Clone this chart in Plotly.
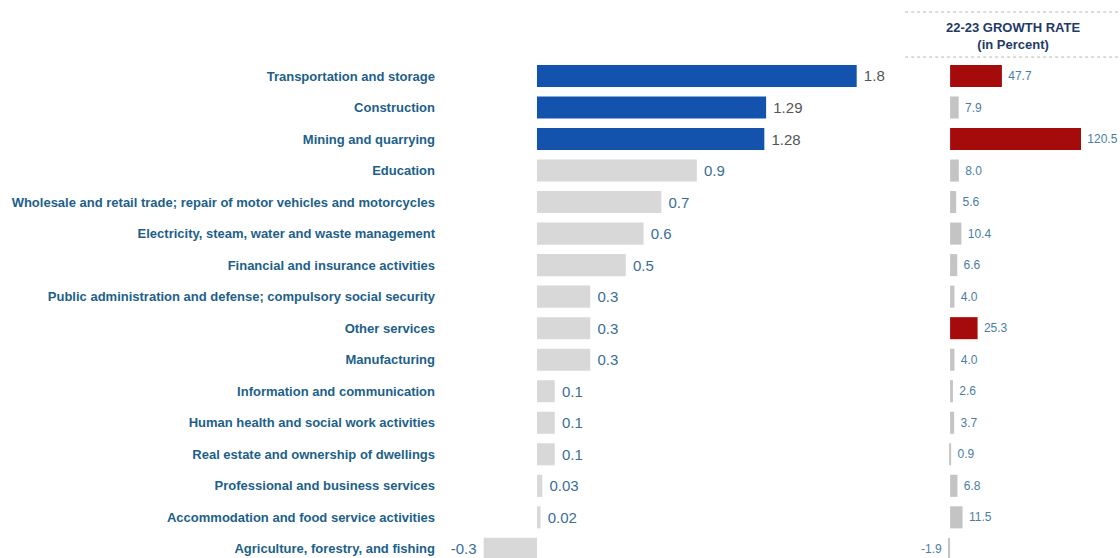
import plotly.graph_objects as go

# Industries, top to bottom
industries = [
    "Transportation and storage",
    "Construction",
    "Mining and quarrying",
    "Education",
    "Wholesale and retail trade; repair of motor vehicles and motorcycles",
    "Electricity, steam, water and waste management",
    "Financial and insurance activities",
    "Public administration and defense; compulsory social security",
    "Other services",
    "Manufacturing",
    "Information and communication",
    "Human health and social work activities",
    "Real estate and ownership of dwellings",
    "Professional and business services",
    "Accommodation and food service activities",
    "Agriculture, forestry, and fishing",
]

# Contribution to growth (percentage points)
contribution = [1.8, 1.29, 1.28, 0.9, 0.7, 0.6, 0.5, 0.3, 0.3, 0.3, 0.1, 0.1, 0.1, 0.03, 0.02, -0.3]

# 22-23 growth rate (in percent)
growth_rate = [47.7, 7.9, 120.5, 8.0, 5.6, 10.4, 6.6, 4.0, 25.3, 4.0, 2.6, 3.7, 0.9, 6.8, 11.5, -1.9]

# Highlighted industries
top_contributors = {"Transportation and storage", "Construction", "Mining and quarrying"}
high_growth = {"Transportation and storage", "Mining and quarrying", "Other services"}

FONT = "Liberation Sans, Arial, sans-serif"
BLUE = "#1352ad"
RED = "#a50b0b"
GREY_L = "#d8d8d8"
GREY_R = "#c4c4c4"

left_colors = [BLUE if c in top_contributors else GREY_L for c in industries]
left_text_colors = ["#555555" if c in top_contributors else "#3a6d98" for c in industries]
left_text = [("\u00a0" + f"{v:g}") if v >= 0 else (f"{v:g}" + "\u00a0") for v in contribution]

right_colors = [RED if c in high_growth else GREY_R for c in industries]
right_text = [("\u00a0" + f"{v:.1f}") if v >= 0 else (f"{v:.1f}" + "\u00a0") for v in growth_rate]

fig = go.Figure()

fig.add_trace(go.Bar(
    x=contribution, y=industries, orientation="h",
    marker=dict(color=left_colors, line=dict(width=0)),
    width=0.7,
    text=left_text, textposition="outside", textangle=0,
    constraintext="none", cliponaxis=False,
    textfont=dict(family=FONT, size=15, color=left_text_colors),
    xaxis="x", yaxis="y", showlegend=False, hoverinfo="x+y",
))

fig.add_trace(go.Bar(
    x=growth_rate, y=industries, orientation="h",
    marker=dict(color=right_colors, line=dict(width=0)),
    width=0.7,
    text=right_text, textposition="outside", textangle=0,
    constraintext="none", cliponaxis=False,
    textfont=dict(family=FONT, size=12, color="#4a7ea3"),
    xaxis="x2", yaxis="y2", showlegend=False, hoverinfo="x+y",
))

y_range = [15.29, -2.41]

fig.update_layout(
    width=1120, height=558,
    margin=dict(l=440, r=0, t=0, b=0),
    paper_bgcolor="white", plot_bgcolor="white",
    bargap=0.3,
    xaxis=dict(domain=[0, 0.676], range=[-0.546, 2.042], visible=False,
               showgrid=False, zeroline=False),
    xaxis2=dict(domain=[0.684, 1.0], range=[-41.4, 156.4], visible=False,
                showgrid=False, zeroline=False),
    yaxis=dict(anchor="x", type="category", categoryorder="array",
               categoryarray=industries, range=y_range,
               showgrid=False, zeroline=False, showline=False, ticks="",
               ticklabelstandoff=4,
               tickfont=dict(family=FONT, size=13, color="#1d5f8a", weight="bold")),
    yaxis2=dict(anchor="x2", type="category", categoryorder="array",
                categoryarray=industries, range=y_range, matches="y",
                showticklabels=False, showgrid=False, zeroline=False,
                showline=False, ticks=""),
)

# Header of the growth-rate panel
for yv in (-2.03, -0.60):
    fig.add_shape(type="line", xref="x2 domain", yref="y2",
                  x0=0, x1=1, y0=yv, y1=yv,
                  line=dict(color="#b5b5b5", width=1, dash="dot"))

fig.add_annotation(xref="x2 domain", yref="y2", x=0.5, y=-1.28,
                   text="<b>22-23 GROWTH RATE</b><br><b>(in Percent)</b>",
                   showarrow=False, align="center",
                   font=dict(family=FONT, size=13, color="#1f3a68"))

fig.write_html("out.html")
